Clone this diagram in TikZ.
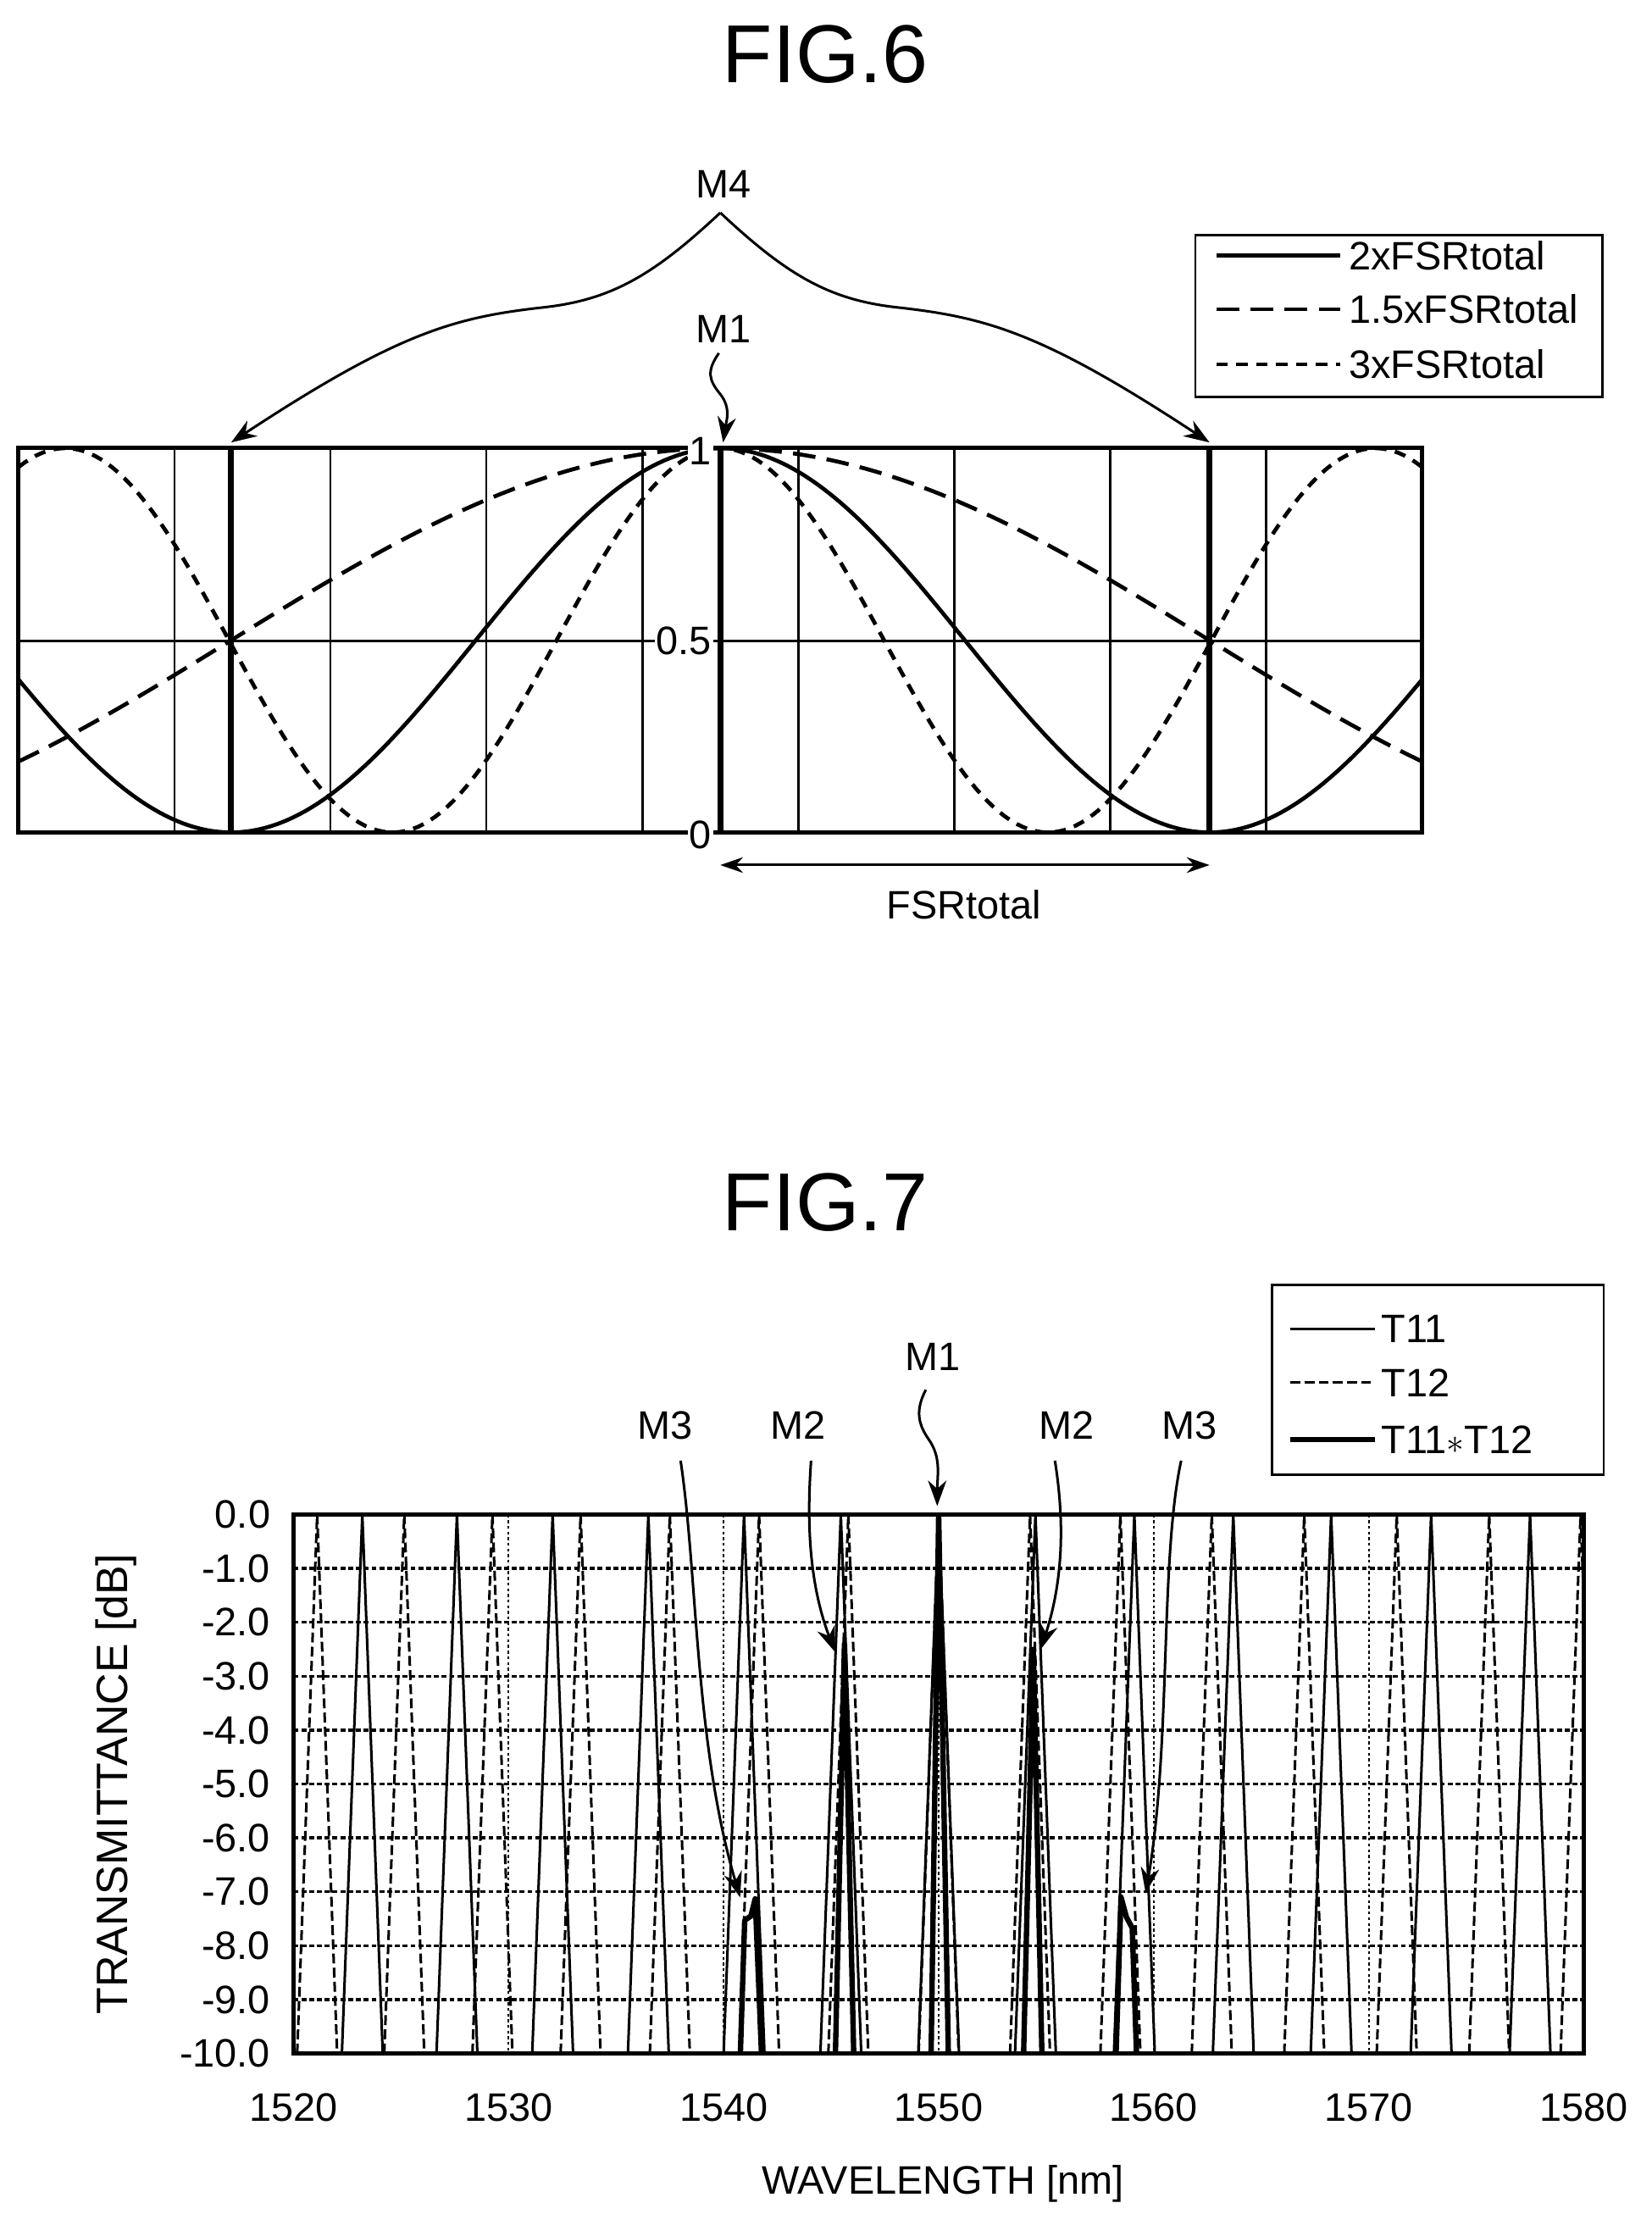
\documentclass[tikz,border=0pt]{standalone}
\usepackage{fontspec}
\setmainfont{Liberation Sans}
\usetikzlibrary{arrows.meta}
\begin{document}
\begin{tikzpicture}[x=1pt,y=-1pt,
  lbl/.style={font=\fontsize{28}{31}\selectfont, inner sep=1pt},
  ttl/.style={font=\fontsize{58}{62}\selectfont},
  arr/.style={line width=1.8pt,-{Stealth[length=18pt,width=13pt]}},
  grid6/.style={line width=1.6pt},
  c2/.style={line width=2.8pt},
  c15/.style={line width=2.8pt,dash pattern=on 16pt off 8pt},
  c3/.style={line width=2.8pt,dash pattern=on 8pt off 6pt},
  t11/.style={line width=1.8pt},
  t12/.style={line width=1.8pt,dash pattern=on 7pt off 3pt},
  tp/.style={line width=3.8pt,line join=round},
  g7/.style={line width=2pt,dash pattern=on 3.5pt off 2pt},
  gv7/.style={line width=1.4pt,dash pattern=on 2pt off 2pt}]
\useasboundingbox (0,0) rectangle (1165,1569);
\fill[white] (0,0) rectangle (1165,1569);
% ---------------- FIG.6 ----------------
\node[ttl] (f6) at (582,38) {FIG.6};
\foreach \i in {1,...,8} \draw[grid6] (13+\i*110,316) -- (13+\i*110,587);
\draw[grid6] (13,452) -- (1003,452);
\draw[c2,domain=13:1003,samples=240] plot (\x,{587-271*cos((\x-508)/690*180)^2});
\draw[c15,domain=13:1003,samples=240] plot (\x,{587-271*cos((\x-508)/1380*180)^2});
\draw[c3,domain=13:1003,samples=240] plot (\x,{587-271*cos((\x-508)/462*180)^2});
\foreach \xx in {163,508,853} \draw[line width=4.2pt] (\xx,316) -- (\xx,587);
\draw[line width=3pt] (13,316) rectangle (1003,587);
\node[lbl,fill=white,anchor=east] (y1) at (503,318) {1};
\node[lbl,fill=white,anchor=east] (y05) at (503,452) {0.5};
\node[lbl,fill=white,anchor=east] (y0) at (503,589) {0};
\coordinate (pL) at (163,312);
\coordinate (pM) at (510,312);
\coordinate (pR) at (853,312);
\node[lbl] (m4) at (510,130) {M4};
\node[lbl] (m1a) at (510,232) {M1};
\coordinate (apex) at (508,150);
\draw[arr] (apex) .. controls (460,195) and (430,212) .. (381,217)
   .. controls (320,224) and (280,235) .. (pL);
\draw[arr] (apex) .. controls (556,195) and (586,212) .. (635,217)
   .. controls (696,224) and (736,235) .. (pR);
\draw[arr] (507,249) .. controls (498,262) and (500,268) .. (508,278)
   .. controls (516,288) and (512,298) .. (pM);
\coordinate (fa) at (508,610); \coordinate (fb) at (853,610);
\draw[line width=1.8pt,{Stealth[length=16pt,width=11pt]}-{Stealth[length=16pt,width=11pt]}] (fa) -- (fb);
\node[lbl] (fsr) at (680,638) {FSRtotal};
% legend 6
\draw[line width=1.6pt] (843,166) rectangle (1130,280);
\draw[c2] (858,180) -- (945,180); \node[lbl,anchor=west] (l61) at (950,180) {2xFSRtotal};
\draw[c15] (858,218) -- (945,218); \node[lbl,anchor=west] (l62) at (950,218) {1.5xFSRtotal};
\draw[c3] (858,257) -- (945,257); \node[lbl,anchor=west] (l63) at (950,257) {3xFSRtotal};
% ---------------- FIG.7 ----------------
\node[ttl] (f7) at (582,848) {FIG.7};
\begin{scope}[shift={(207,1068)},x=15.1667pt,y=38pt]
  \begin{scope}
  \clip (0,0) rectangle (60,-10);
  \foreach \d in {1,...,9} \draw[g7] (0,-\d) -- (60,-\d);
  \foreach \w in {10,20,30,40,50} \draw[gv7] (\w,0) -- (\w,-10);
  \foreach \p in {1523.2,1527.6,1532.05,1536.5,1540.95,1545.45,1550,1554.5,1559.1,1563.7,1568.25,1572.9,1577.5}
    \draw[t11] (\p-1520-0.95,-10) -- (\p-1520,0) -- (\p-1520+0.95,-10);
  \foreach \p in {1521.1,1525.15,1529.25,1533.35,1537.5,1541.65,1545.8,1550,1554.25,1558.45,1562.7,1567.0,1571.3,1575.6,1579.85}
    \draw[t12] (\p-1520-0.93,-10) -- (\p-1520,0) -- (\p-1520+0.93,-10);
  \draw[tp] (29.65,-10) -- (30,0) -- (30.45,-10);
  \draw[tp] (25.2,-10) -- (25.62,-2.4) -- (26.05,-10);
  \draw[tp] (33.95,-10) -- (34.4,-2.5) -- (34.8,-10);
  \draw[tp] (20.78,-10) -- (20.98,-7.53) -- (21.27,-7.45) -- (21.47,-7.13) -- (21.76,-10);
  \draw[tp] (38.25,-10) -- (38.48,-7.1) -- (38.73,-7.47) -- (39.0,-7.67) -- (39.2,-10);
  \end{scope}
  \draw[line width=3pt] (0,0) rectangle (60,-10);
  \foreach \d/\t in {0/0.0,1/-1.0,2/-2.0,3/-3.0,4/-4.0,5/-5.0,6/-6.0,7/-7.0,8/-8.0,9/-9.0,10/-10.0}
    \node[lbl,anchor=east] (yt\d) at (-1.0,-\d) {\t};
  \foreach \w in {0,10,...,60} \node[lbl] (xt\w) at (\w,-11.0) {\pgfmathparse{int(1520+\w)}\pgfmathresult};
\end{scope}
\node[lbl,rotate=90,font=\fontsize{31}{34}\selectfont] (ylab) at (82,1258) {TRANSMITTANCE [dB]};
\node[lbl] (xlab) at (665,1540) {WAVELENGTH [nm]};
% legend 7
\draw[line width=1.6pt] (897,906) rectangle (1131,1040);
\draw[t11] (910,937) -- (970,937); \node[lbl,anchor=west] (l71) at (973,937) {T11};
\draw[t12] (910,975) -- (970,975); \node[lbl,anchor=west] (l72) at (973,975) {T12};
\draw[tp] (910,1015) -- (970,1015); \node[lbl,anchor=west] (l73) at (973,1015) {T11$\ast$T12};
% M labels fig 7
\node[lbl] (m1b) at (658,957) {M1};
\node[lbl] (m2l) at (563,1005) {M2};
\node[lbl] (m3l) at (469,1005) {M3};
\node[lbl] (m2r) at (752,1005) {M2};
\node[lbl] (m3r) at (839,1005) {M3};
\coordinate (t1) at (661,1062);
\coordinate (t2l) at (589,1165); \coordinate (t3l) at (522,1338);
\coordinate (t2r) at (734,1163); \coordinate (t3r) at (808,1335);
\draw[arr] (653,980) .. controls (645,995) and (648,1005) .. (655,1015)
   .. controls (664,1028) and (661,1040) .. (t1);
\draw[arr] (572,1030) .. controls (570,1060) and (568,1110) .. (t2l);
\draw[arr] (480,1030) .. controls (492,1110) and (490,1230) .. (t3l);
\draw[arr] (744,1030) .. controls (752,1080) and (748,1120) .. (t2r);
\draw[arr] (833,1030) .. controls (818,1100) and (826,1230) .. (t3r);
\end{tikzpicture}
\end{document}
